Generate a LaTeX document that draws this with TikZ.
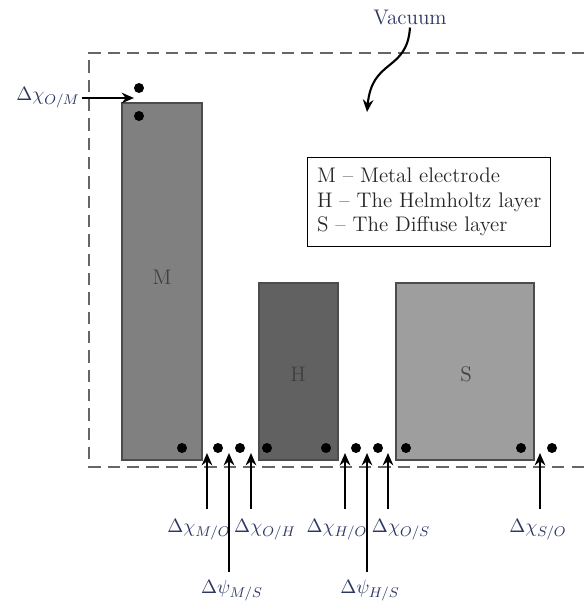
\documentclass[tikz,border=0pt]{standalone}
\usetikzlibrary{arrows.meta}
\definecolor{labelblue}{RGB}{45,55,100}
\begin{document}
\begin{tikzpicture}[x=0.02cm,y=-0.02cm,
  dot/.style={circle,fill=black,inner sep=0pt,minimum size=10*0.02cm},
  arr/.style={-{Stealth[length=7pt,width=6pt]},line width=1.2pt},
  lbl/.style={text=labelblue,font=\fontsize{11}{13}\selectfont,inner sep=1pt},
  layer/.style={draw=black!70,line width=0.8pt}]
\useasboundingbox (0,0) rectangle (584,608);

% vacuum boundary
\draw[gray!80!black,dashed,dash pattern=on 7pt off 4pt,line width=0.8pt] (584,53) -- (89,53) -- (89,467) -- (584,467);

% layers
\fill[layer,fill=black!50] (122,103) rectangle (202,460);
\fill[layer,fill=black!62] (259,283) rectangle (338,460);
\fill[layer,fill=black!38] (396,283) rectangle (534,460);
\draw[layer] (122,103) rectangle (202,460);
\draw[layer] (259,283) rectangle (338,460);
\draw[layer] (396,283) rectangle (534,460);
\node[text=black!75,font=\large] (M) at (162,277) {M};
\node[text=black!75,font=\large] (H) at (298,374) {H};
\node[text=black!75,font=\large] (S) at (466,374) {S};

% legend
\node[draw,line width=0.8pt,align=left,anchor=north west,font=\large,inner sep=4pt,text=black!85,
  minimum width=243*0.02cm,minimum height=89*0.02cm] (key) at (307,157)
  {M -- Metal electrode\\H -- The Helmholtz layer\\S -- The Diffuse layer};

% vacuum label
\node[lbl,font=\large] (vac) at (410,18) {Vacuum};
\coordinate (vacend) at (367,112);
\draw[arr] (vac.south) .. controls (407,72) and (372,58) .. (vacend);

% dipole dots
\node[dot] (d1) at (139,88) {};
\node[dot] (d2) at (139,116) {};
\node[dot] (d3) at (182,448) {};
\node[dot] (d4) at (218,448) {};
\node[dot] (d5) at (240,448) {};
\node[dot] (d6) at (267,448) {};
\node[dot] (d7) at (326,448) {};
\node[dot] (d8) at (356,448) {};
\node[dot] (d9) at (378,448) {};
\node[dot] (d10) at (406,448) {};
\node[dot] (d11) at (521,448) {};
\node[dot] (d12) at (552,448) {};

% surface potentials
\node[lbl] (xOM) at (48,98) {$\Delta\chi_{O/M}$};
\coordinate (tOM) at (134,98);
\draw[arr] (xOM.east) -- (tOM);

\node[lbl] (xMO) at (199,530) {$\Delta\chi_{M/O}$};
\node[lbl] (xOH) at (265,530) {$\Delta\chi_{O/H}$};
\node[lbl] (xHO) at (337,530) {$\Delta\chi_{H/O}$};
\node[lbl] (xOS) at (401,530) {$\Delta\chi_{O/S}$};
\node[lbl] (xSO) at (538,530) {$\Delta\chi_{S/O}$};
\node[lbl] (pMS) at (232,591) {$\Delta\psi_{M/S}$};
\node[lbl] (pHS) at (370,591) {$\Delta\psi_{H/S}$};

\coordinate (bMO) at (207,509); \coordinate (tMO) at (207,453);
\coordinate (bOH) at (251,509); \coordinate (tOH) at (251,453);
\coordinate (bHO) at (345,509); \coordinate (tHO) at (345,453);
\coordinate (bOS) at (388,509); \coordinate (tOS) at (388,453);
\coordinate (bSO) at (540,509); \coordinate (tSO) at (540,453);
\coordinate (bMS) at (229,572); \coordinate (tMS) at (229,453);
\coordinate (bHS) at (367,572); \coordinate (tHS) at (367,453);
\foreach \a in {MO,OH,HO,OS,SO,MS,HS}
  \draw[arr] (b\a) -- (t\a);

\end{tikzpicture}
\end{document}
